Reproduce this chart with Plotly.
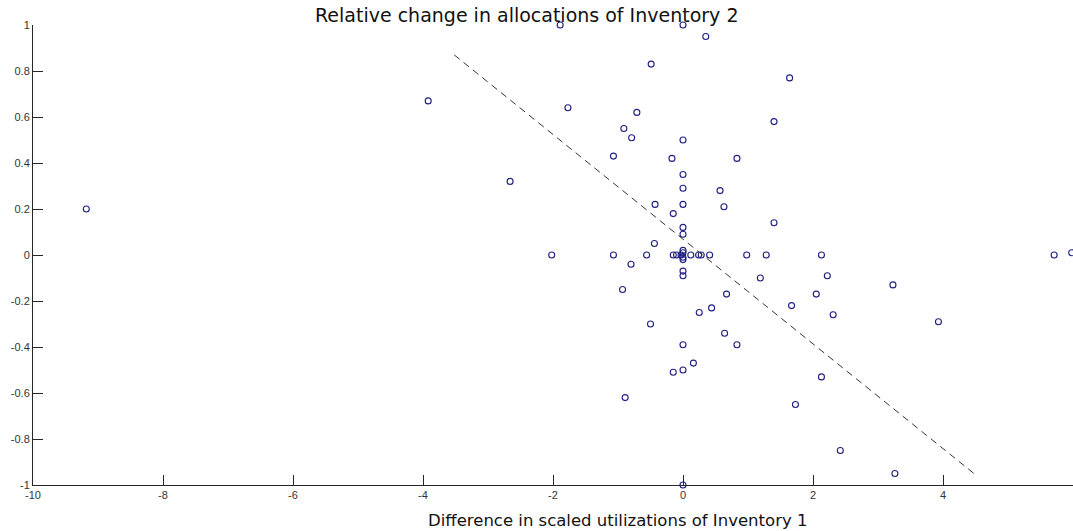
import plotly.graph_objects as go

# Observations: difference in scaled utilisation (x) vs relative allocation change (y)
util_diff = [
    -9.18, -3.92, -2.66, -2.02, -1.89, -1.77, -0.71, -0.91, -0.79, -1.07,
    -0.17, 0.83, -0.49, 0.00, 0.35, 0.00, 0.00, 0.00, 0.57, -0.43,
    0.00, 0.63, -0.15, 0.00, 0.00, -0.44, -1.07, -0.56, -0.15, -0.10,
    -0.03, 0.00, 0.00, 0.00, 0.00, 0.12, 0.24, 0.28, 0.41, 0.98,
    -0.80, 0.00, 0.00, -0.93, 0.67, 0.44, 0.25, -0.50, 0.64, 0.00,
    0.83, 0.16, 0.00, -0.15, -0.89, 0.00, 1.64, 1.40, 1.40, 1.28,
    2.13, 5.71, 5.98, 1.19, 2.22, 3.23, 2.05, 1.67, 2.31, 3.93,
    2.13, 1.73, 2.42, 3.26,
]
alloc_change = [
    0.20, 0.67, 0.32, 0.00, 1.00, 0.64, 0.62, 0.55, 0.51, 0.43,
    0.42, 0.42, 0.83, 1.00, 0.95, 0.50, 0.35, 0.29, 0.28, 0.22,
    0.22, 0.21, 0.18, 0.12, 0.09, 0.05, 0.00, 0.00, 0.00, 0.00,
    0.00, 0.02, 0.01, -0.01, -0.02, 0.00, 0.00, 0.00, 0.00, 0.00,
    -0.04, -0.07, -0.09, -0.15, -0.17, -0.23, -0.25, -0.30, -0.34, -0.39,
    -0.39, -0.47, -0.50, -0.51, -0.62, -1.00, 0.77, 0.58, 0.14, 0.00,
    0.00, 0.00, 0.01, -0.10, -0.09, -0.13, -0.17, -0.22, -0.26, -0.29,
    -0.53, -0.65, -0.85, -0.95,
]

# Fitted trend line endpoints
fit_x = [-3.52, 4.52]
fit_y = [0.87, -0.96]

x_ticks = [-10, -8, -6, -4, -2, 0, 2, 4, 6]
x_tick_text = ["-10", "-8", "-6", "-4", "-2", "0", "2", "4", "6"]
y_ticks = [-1, -0.8, -0.6, -0.4, -0.2, 0, 0.2, 0.4, 0.6, 0.8, 1]
y_tick_text = ["-1", "-0.8", "-0.6", "-0.4", "-0.2", "0", "0.2", "0.4", "0.6", "0.8", "1"]

fig = go.Figure()
fig.add_trace(go.Scatter(
    x=util_diff, y=alloc_change, mode="markers",
    marker=dict(symbol="circle-open", size=6, color="#1f1f80", line=dict(width=1.1)),
    cliponaxis=False, showlegend=False,
))
fig.add_trace(go.Scatter(
    x=fit_x, y=fit_y, mode="lines",
    line=dict(color="#333333", width=1, dash="7px,5px"),
    showlegend=False,
))

axis_common = dict(
    showgrid=False, zeroline=False, showline=True, linecolor="#262626", linewidth=1,
    ticks="inside", ticklen=10, tickcolor="#262626", tickwidth=1, mirror=False,
    tickfont=dict(family="Liberation Sans, Arial, sans-serif", size=11, color="#333333"),
)
fig.update_xaxes(range=[-10, 6], tickvals=x_ticks, ticktext=x_tick_text, **axis_common)
fig.update_yaxes(range=[-1, 1], tickvals=y_ticks, ticktext=y_tick_text, **axis_common)

fig.update_layout(
    width=1073, height=531,
    margin=dict(l=33, r=0, t=25, b=46),
    paper_bgcolor="white", plot_bgcolor="white",
    annotations=[
        dict(text="Relative change in allocations of Inventory 2", xref="paper", yref="paper",
             x=0.4745, y=1, yshift=10, xanchor="center", yanchor="middle", showarrow=False,
             font=dict(family="DejaVu Sans, sans-serif", size=19, color="#111111")),
        dict(text="Difference in scaled utilizations of Inventory 1", xref="paper", yref="paper",
             x=(617.5 - 33) / 1040, y=0, yshift=-35, xanchor="center", yanchor="middle",
             showarrow=False,
             font=dict(family="DejaVu Sans, sans-serif", size=16.5, color="#111111")),
    ],
)

fig.write_html("out.html")
